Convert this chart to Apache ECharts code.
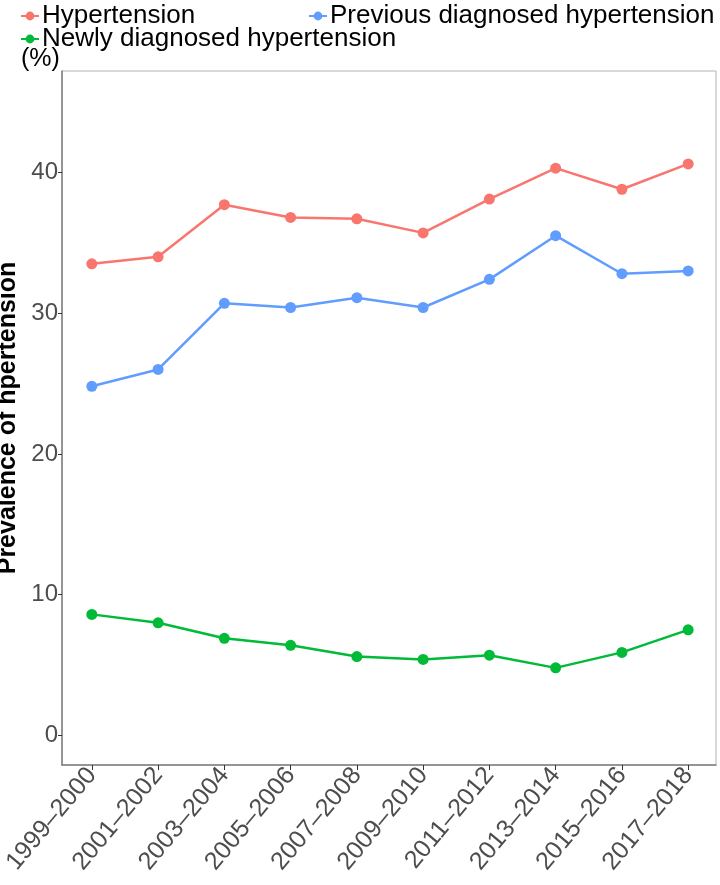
<!DOCTYPE html>
<html>
<head>
<meta charset="utf-8">
<script src="https://cdn.jsdelivr.net/npm/echarts@6/dist/echarts.min.js"></script>
<style>
  html, body { margin: 0; padding: 0; background: #fff; }
  #chart { width: 720px; height: 885px; }
</style>
</head>
<body>
<div id="chart"></div>
<script>
const periods = ['1999–2000', '2001–2002', '2003–2004', '2005–2006', '2007–2008',
  '2009–2010', '2011–2012', '2013–2014', '2015–2016', '2017–2018'];
const hypertension = [33.5, 34.0, 37.7, 36.8, 36.7, 35.7, 38.1, 40.3, 38.8, 40.6];
const previousDx = [24.8, 26.0, 30.7, 30.4, 31.1, 30.4, 32.4, 35.5, 32.8, 33.0];
const newlyDx = [8.6, 8.0, 6.9, 6.4, 5.6, 5.4, 5.7, 4.8, 5.9, 7.5];
const yTicks = [0, 10, 20, 30, 40];

const font = 'Liberation Sans, Arial, sans-serif';
const pairs = arr => arr.map((v, i) => [i, v]);

function lineSeries(name, data, color) {
  return {
    name: name,
    type: 'line',
    data: pairs(data),
    symbol: 'circle',
    symbolSize: 11,
    lineStyle: { width: 2.5, color: color },
    itemStyle: { color: color },
    emphasis: { disabled: true }
  };
}

function legendAt(name, left, top) {
  return {
    data: [name],
    left: left,
    top: top,
    itemWidth: 18,
    itemHeight: 11,
    padding: 0,
    textStyle: { fontFamily: font, fontSize: 26, color: '#000', padding: [0, 0, 0, -2] }
  };
}

const chart = echarts.init(document.getElementById('chart'));
chart.setOption({
  animation: false,
  legend: [
    legendAt('Hypertension', 20, 3),
    legendAt('Previous diagnosed hypertension', 308, 3),
    legendAt('Newly diagnosed hypertension', 20, 26)
  ],
  grid: {
    left: 62, right: 4, top: 71, bottom: 120,
    show: true, borderColor: '#b3b3b3', borderWidth: 1,
    outerBoundsMode: 'none'
  },
  graphic: [{
    type: 'text',
    left: 21, top: 47,
    style: { text: '(%)', fontFamily: font, fontSize: 25, fill: '#000' }
  }],
  xAxis: {
    type: 'value',
    min: -0.45, max: 9.42,
    axisLine: { show: true, onZero: false, lineStyle: { color: '#7f7f7f', width: 1.5 } },
    axisTick: { show: true, customValues: periods.map((p, i) => i), length: 5, lineStyle: { color: '#333' } },
    axisLabel: {
      customValues: periods.map((p, i) => i),
      formatter: v => periods[Math.round(v)],
      rotate: 50, fontFamily: font, fontSize: 25, color: '#4d4d4d', margin: 6
    },
    splitLine: { show: false }
  },
  yAxis: {
    type: 'value',
    min: -2.1, max: 47.2,
    name: 'Prevalence of hpertension',
    nameLocation: 'middle',
    nameGap: 34,
    nameTextStyle: { fontFamily: font, fontSize: 25, fontWeight: 'bold', color: '#000' },
    axisLine: { show: true, onZero: false, lineStyle: { color: '#7f7f7f', width: 1.5 } },
    axisTick: { show: true, customValues: yTicks, length: 4, lineStyle: { color: '#333' } },
    axisLabel: { customValues: yTicks, fontFamily: font, fontSize: 24, color: '#4d4d4d', margin: 4 },
    splitLine: { show: false }
  },
  series: [
    lineSeries('Hypertension', hypertension, '#F8766D'),
    lineSeries('Previous diagnosed hypertension', previousDx, '#619CFF'),
    lineSeries('Newly diagnosed hypertension', newlyDx, '#00BA38')
  ]
});
</script>
</body>
</html>
